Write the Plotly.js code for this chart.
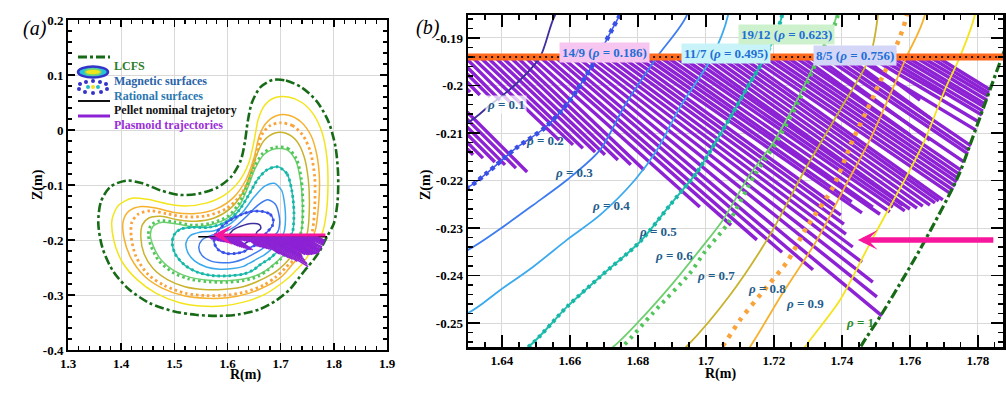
<!DOCTYPE html>
<html><head><meta charset="utf-8">
<script src="https://cdn.plot.ly/plotly-3.0.1.min.js"></script>
<style>html,body{margin:0;padding:0;background:#fff}#chart{width:1006px;height:393px}</style>
</head><body><div id="chart"></div>
<script>
// ---------- DATA (R, Z in metres) ----------
const lcfs = [[1.7871,-0.194],[1.7782,-0.2115],[1.7741,-0.2193],[1.7630,-0.2345],[1.7512,-0.2487],[1.7462,-0.2542],[1.735,-0.268],[1.717,-0.290],[1.690,-0.311],[1.660,-0.326],[1.620,-0.3355],[1.580,-0.338],[1.540,-0.336],[1.500,-0.330],[1.454,-0.315],[1.415,-0.290],[1.385,-0.257],[1.365,-0.215],[1.357,-0.170],[1.362,-0.130],[1.380,-0.103],[1.410,-0.092],[1.440,-0.097],[1.475,-0.110],[1.510,-0.118],[1.545,-0.116],[1.580,-0.105],[1.607,-0.085],[1.625,-0.055],[1.633,-0.020],[1.638,0.015],[1.646,0.050],[1.662,0.078],[1.685,0.091],[1.710,0.090],[1.740,0.077],[1.768,0.052],[1.790,0.015],[1.803,-0.030],[1.808,-0.080],[1.807,-0.130],[1.800,-0.170],[1.7871,-0.194]];
const rho09 = [[1.7791,-0.1852],[1.7747,-0.1940],[1.7703,-0.2009],[1.7644,-0.2115],[1.7600,-0.2178],[1.7488,-0.2325],[1.7394,-0.2452],[1.7300,-0.2542],[1.718,-0.266],[1.700,-0.280],[1.670,-0.299],[1.630,-0.313],[1.590,-0.320],[1.550,-0.320],[1.510,-0.314],[1.466,-0.297],[1.430,-0.272],[1.402,-0.240],[1.386,-0.200],[1.383,-0.162],[1.395,-0.137],[1.420,-0.124],[1.450,-0.126],[1.485,-0.134],[1.520,-0.138],[1.560,-0.133],[1.595,-0.118],[1.622,-0.093],[1.640,-0.060],[1.650,-0.020],[1.658,0.020],[1.670,0.045],[1.690,0.059],[1.715,0.060],[1.740,0.050],[1.762,0.028],[1.778,-0.005],[1.787,-0.050],[1.789,-0.100],[1.786,-0.150],[1.7791,-0.1852]];
const rho08 = [[1.7644,-0.1852],[1.7590,-0.1940],[1.7482,-0.2115],[1.7415,-0.2205],[1.7327,-0.2325],[1.7226,-0.2437],[1.7129,-0.2551],[1.700,-0.268],[1.675,-0.283],[1.640,-0.297],[1.600,-0.305],[1.560,-0.306],[1.520,-0.302],[1.478,-0.288],[1.443,-0.265],[1.418,-0.232],[1.405,-0.195],[1.404,-0.165],[1.415,-0.147],[1.438,-0.139],[1.465,-0.142],[1.500,-0.150],[1.540,-0.152],[1.580,-0.143],[1.612,-0.122],[1.635,-0.090],[1.650,-0.050],[1.660,-0.010],[1.672,0.012],[1.692,0.026],[1.715,0.027],[1.738,0.015],[1.757,-0.010],[1.768,-0.045],[1.773,-0.090],[1.771,-0.140],[1.7644,-0.1852]];
const q85 = [[1.7591,-0.1852],[1.7497,-0.2016],[1.7432,-0.2115],[1.7374,-0.2214],[1.7297,-0.2298],[1.7238,-0.2372],[1.7179,-0.2424],[1.7100,-0.2494],[1.7047,-0.2551],[1.690,-0.268],[1.668,-0.282],[1.635,-0.294],[1.600,-0.300],[1.560,-0.301],[1.522,-0.297],[1.482,-0.283],[1.450,-0.262],[1.428,-0.230],[1.419,-0.195],[1.420,-0.168],[1.432,-0.153],[1.455,-0.147],[1.485,-0.152],[1.520,-0.158],[1.560,-0.156],[1.598,-0.143],[1.625,-0.118],[1.643,-0.083],[1.654,-0.045],[1.665,-0.008],[1.680,0.008],[1.700,0.013],[1.722,0.008],[1.742,-0.010],[1.756,-0.040],[1.764,-0.085],[1.764,-0.140],[1.7591,-0.1852]];
const rho07 = [[1.7506,-0.1852],[1.7482,-0.1940],[1.7394,-0.2052],[1.7291,-0.2178],[1.7188,-0.2315],[1.7071,-0.2441],[1.6941,-0.2551],[1.680,-0.264],[1.655,-0.276],[1.625,-0.286],[1.590,-0.290],[1.555,-0.290],[1.520,-0.285],[1.487,-0.272],[1.460,-0.252],[1.443,-0.225],[1.437,-0.195],[1.440,-0.172],[1.452,-0.160],[1.475,-0.157],[1.505,-0.163],[1.540,-0.166],[1.575,-0.160],[1.605,-0.143],[1.628,-0.115],[1.643,-0.080],[1.655,-0.045],[1.668,-0.020],[1.688,-0.006],[1.710,-0.006],[1.730,-0.020],[1.744,-0.048],[1.752,-0.090],[1.754,-0.140],[1.7506,-0.1852]];
const q1912 = [[1.7388,-0.1852],[1.7332,-0.1940],[1.7274,-0.2031],[1.7206,-0.2121],[1.7144,-0.2188],[1.7065,-0.2290],[1.6997,-0.2350],[1.6953,-0.2395],[1.6844,-0.2479],[1.6753,-0.2551],[1.658,-0.266],[1.630,-0.274],[1.600,-0.277],[1.565,-0.276],[1.528,-0.271],[1.497,-0.259],[1.471,-0.238],[1.456,-0.211],[1.451,-0.190],[1.456,-0.173],[1.472,-0.165],[1.500,-0.167],[1.535,-0.173],[1.570,-0.169],[1.600,-0.157],[1.620,-0.136],[1.636,-0.103],[1.650,-0.068],[1.667,-0.042],[1.690,-0.031],[1.713,-0.033],[1.730,-0.053],[1.739,-0.090],[1.742,-0.140],[1.7388,-0.1852]];
const rho06 = [[1.7385,-0.1852],[1.7329,-0.1940],[1.7268,-0.2031],[1.7197,-0.2121],[1.7129,-0.2188],[1.7050,-0.2283],[1.6982,-0.2346],[1.6903,-0.2416],[1.6806,-0.2494],[1.6726,-0.2551],[1.655,-0.264],[1.630,-0.271],[1.600,-0.274],[1.565,-0.273],[1.530,-0.268],[1.500,-0.256],[1.475,-0.236],[1.460,-0.210],[1.455,-0.190],[1.460,-0.175],[1.475,-0.168],[1.500,-0.170],[1.535,-0.176],[1.570,-0.172],[1.600,-0.160],[1.622,-0.138],[1.638,-0.105],[1.652,-0.070],[1.668,-0.045],[1.690,-0.034],[1.712,-0.036],[1.728,-0.055],[1.737,-0.090],[1.741,-0.140],[1.7385,-0.1852]];
const rho05 = [[1.7224,-0.1852],[1.7174,-0.1940],[1.7129,-0.1995],[1.7079,-0.2058],[1.7032,-0.2115],[1.6974,-0.2182],[1.6894,-0.2252],[1.6806,-0.2329],[1.6688,-0.2403],[1.6591,-0.2466],[1.6476,-0.2551],[1.630,-0.262],[1.605,-0.265],[1.575,-0.265],[1.545,-0.259],[1.520,-0.246],[1.502,-0.226],[1.496,-0.205],[1.500,-0.190],[1.512,-0.180],[1.535,-0.177],[1.565,-0.177],[1.595,-0.168],[1.620,-0.148],[1.640,-0.118],[1.658,-0.088],[1.675,-0.072],[1.695,-0.067],[1.712,-0.080],[1.721,-0.110],[1.725,-0.150],[1.7224,-0.1852]];
const rho04 = [[1.7065,-0.1852],[1.7018,-0.1940],[1.6924,-0.2045],[1.6856,-0.2136],[1.6791,-0.2199],[1.6688,-0.2273],[1.6591,-0.2325],[1.6491,-0.2382],[1.6394,-0.2431],[1.6300,-0.2479],[1.610,-0.252],[1.585,-0.253],[1.560,-0.249],[1.538,-0.238],[1.525,-0.222],[1.522,-0.205],[1.530,-0.192],[1.548,-0.186],[1.575,-0.183],[1.603,-0.172],[1.628,-0.150],[1.650,-0.122],[1.670,-0.102],[1.688,-0.097],[1.702,-0.110],[1.708,-0.140],[1.709,-0.165],[1.7065,-0.1852]];
const rho03 = [[1.6944,-0.1852],[1.6856,-0.1940],[1.6762,-0.2041],[1.6688,-0.2136],[1.6591,-0.2199],[1.6491,-0.2252],[1.6394,-0.2302],[1.6300,-0.2346],[1.612,-0.240],[1.590,-0.2415],[1.568,-0.238],[1.552,-0.228],[1.546,-0.213],[1.552,-0.200],[1.568,-0.192],[1.592,-0.186],[1.615,-0.175],[1.638,-0.155],[1.658,-0.136],[1.676,-0.127],[1.690,-0.135],[1.697,-0.155],[1.698,-0.172],[1.6944,-0.1852]];
const rho02 = [[1.6747,-0.1852],[1.6679,-0.1942],[1.6600,-0.2031],[1.6526,-0.2089],[1.6441,-0.2132],[1.6353,-0.2186],[1.6300,-0.2214],[1.615,-0.2245],[1.598,-0.2245],[1.583,-0.218],[1.575,-0.205],[1.577,-0.190],[1.590,-0.175],[1.612,-0.160],[1.640,-0.149],[1.665,-0.148],[1.680,-0.153],[1.686,-0.163],[1.684,-0.175],[1.6747,-0.1852]];
const rho01 = [[1.6556,-0.1852],[1.6512,-0.1940],[1.6438,-0.1999],[1.6365,-0.2041],[1.6300,-0.2077],[1.618,-0.2085],[1.607,-0.203],[1.603,-0.193],[1.610,-0.182],[1.625,-0.175],[1.645,-0.170],[1.660,-0.172],[1.6625,-0.179],[1.6556,-0.1852]];

// pellet nominal trajectory
const pelletR = [1.545, 1.7874];
const pelletZ = -0.194;

// plasmoid trajectories: start R on the pellet path, end point (R, Z)
const trajStartR = [1.5650,1.5674,1.5694,1.5718,1.5738,1.5762,1.5782,1.5806,1.5826,1.5850,1.5870,1.5894,
 1.5915,1.5938,1.5959,1.5982,1.6003,1.6026,1.6047,1.6071,1.6091,1.6115,1.6135,
 1.6159,1.6179,1.6203,1.6224,1.6247,1.6268,1.6291,
 1.6312,1.6335,1.6356,1.6379,1.6400,1.6424,1.6444,1.6468,
 1.6488,1.6512,1.6532,1.6556,1.6576,
 1.6600,1.6621,1.6644,
 1.6665,1.6688,1.6709,1.6732,1.6753,1.6776,1.6797,1.6821,1.6841,1.6865,1.6885,1.6909,1.6929,1.6953,1.6974,1.6997,1.7018,1.7041,1.7062,1.7085,1.7106,
 1.7129,1.7150,1.7174,1.7194,1.7218,1.7238,1.7262,1.7282,1.7306,1.7326,1.7350,1.7371,1.7394,1.7415,1.7438,1.7459,1.7482,1.7503,1.7526,1.7547,1.7571,1.7591,1.7615,1.7635,1.7659,1.7680];
const trajEndR = [1.5718,1.5756,1.5785,1.5821,1.5850,1.5882,1.5909,1.5938,1.5965,1.5994,1.6021,1.6050,
 1.6100,1.6153,1.6197,1.6241,1.6276,1.6315,1.6344,1.6379,1.6409,1.6441,1.6474,
 1.6250,1.6276,1.6306,1.6335,1.6365,1.6394,1.6424,
 1.6568,1.6609,1.6638,1.6674,1.6703,1.6741,1.6779,1.6818,
 1.6982,1.7074,1.7150,1.7224,1.7315,
 1.7518,1.7503,1.7491,
 1.7459,1.7432,1.7412,1.7406,1.7397,1.7379,1.7459,1.7429,1.7512,1.7491,1.7541,1.7550,1.7585,1.7579,1.7600,1.7621,1.7638,1.7659,1.7674,1.7685,1.7697,
 1.7721,1.7727,1.7733,1.7738,1.7741,1.7744,1.7750,1.7600,1.7759,1.7659,1.7771,1.7774,1.7780,1.7659,1.7794,1.7630,1.7803,1.7703,1.7812,1.7815,1.7818,1.7821,1.7827,1.7830,1.7833,1.7836];
const trajEndZ = [-0.1988,-0.1999,-0.2005,-0.2014,-0.2020,-0.2026,-0.2031,-0.2035,-0.2039,-0.2043,-0.2047,-0.2052,
 -0.2073,-0.2094,-0.2111,-0.2125,-0.2136,-0.2146,-0.2153,-0.2161,-0.2167,-0.2174,-0.2182,
 -0.2005,-0.2009,-0.2014,-0.2020,-0.2024,-0.2031,-0.2035,
 -0.2115,-0.2125,-0.2132,-0.2140,-0.2146,-0.2157,-0.2167,-0.2178,
 -0.2256,-0.2294,-0.2325,-0.2351,-0.2388,
 -0.2485,-0.2445,-0.2414,
 -0.2372,-0.2340,-0.2313,-0.2292,-0.2273,-0.2252,-0.2268,-0.2245,-0.2271,-0.2256,-0.2266,-0.2256,-0.2264,-0.2252,-0.2260,-0.2258,-0.2254,-0.2252,-0.2247,-0.2243,-0.2241,
 -0.2228,-0.2220,-0.2212,-0.2203,-0.2195,-0.2186,-0.2178,-0.2104,-0.2161,-0.2115,-0.2144,-0.2136,-0.2127,-0.2068,-0.2094,-0.2031,-0.2077,-0.2022,-0.2062,-0.2054,-0.2045,-0.2039,-0.2031,-0.2022,-0.2016,-0.2009];

// injection direction arrows (tail R, head R, Z)
const arrowA = {tailR:1.787, headR:1.572, z:-0.191};
const arrowB = {tailR:1.785, headR:1.7447, z:-0.2325};

// ticks
const xTicksA = [1.3,1.4,1.5,1.6,1.7,1.8,1.9], xLabA = ['1.3','1.4','1.5','1.6','1.7','1.8','1.9'];
const yTicksA = [-0.4,-0.3,-0.2,-0.1,0,0.1,0.2], yLabA = ['-0.4','-0.3','-0.2','-0.1','0','0.1','0.2'];
const xTicksB = [1.64,1.66,1.68,1.7,1.72,1.74,1.76,1.78], xLabB = ['1.64','1.66','1.68','1.7','1.72','1.74','1.76','1.78'];
const yTicksB = [-0.25,-0.24,-0.23,-0.22,-0.21,-0.2,-0.19], yLabB = ['-0.25','-0.24','-0.23','-0.22','-0.21','-0.2','-0.19'];

// labels
const rhoLabels = ['ρ = 0.1','ρ = 0.2','ρ = 0.3','ρ = 0.4','ρ = 0.5','ρ = 0.6','ρ = 0.7','ρ = 0.8','ρ = 0.9','ρ = 1'];
const rationalLabels = ['14/9 (ρ = 0.186)','11/7 (ρ = 0.495)','19/12 (ρ = 0.623)','8/5 (ρ = 0.756)'];
const legendLabels = ['LCFS','Magnetic surfaces','Rational surfaces','Pellet nominal trajetory','Plasmoid trajectories'];

// ---------- DRAWING ----------
const W = 1006, H = 393;
const serif = 'Liberation Serif, Times New Roman, serif';
const px = (x,y) => ({x: x/W, y: 1 - y/H, xref:'paper', yref:'paper'});
const b = t => '<b>' + t + '</b>';

function loop(pts){
  const body = pts.slice(0,-1); let k = 0;
  body.forEach((p,i)=>{ if(p[1] > body[k][1]) k = i; });
  const r = body.slice(k).concat(body.slice(0,k)); r.push(r[0]); return r;
}
function curve(pts, panel, color, width, dash){
  const p = loop(pts);
  return {type:'scatter', mode:'lines', x:p.map(d=>d[0]), y:p.map(d=>d[1]),
    xaxis: panel===1?'x':'x2', yaxis: panel===1?'y':'y2',
    line:{color:color, width:width, dash:dash||'solid', shape:'spline', smoothing:0.8},
    hoverinfo:'skip', showlegend:false};
}
function trajTrace(panel, width){
  const x=[], y=[];
  trajStartR.forEach((r,i)=>{ x.push(r, trajEndR[i], null); y.push(pelletZ, trajEndZ[i], null); });
  return {type:'scatter', mode:'lines', x:x, y:y, xaxis: panel===1?'x':'x2', yaxis: panel===1?'y':'y2',
    line:{color:'#8c22d4', width:width}, hoverinfo:'skip', showlegend:false, connectgaps:false};
}

const styles = [
  {pts:rho09, c:'#f3e51d', w:[1.5,1.8]},
  {pts:rho08, c:'#f6b12e', w:[1.5,1.8]},
  {pts:q85,   c:'#f9a33a', w:[2.8,4.5], dash:['2.5px,3px','4px,6px']},
  {pts:rho07, c:'#c9b22c', w:[1.5,1.8]},
  {pts:rho06, c:'#6fd06f', w:[1.5,1.8]},
  {pts:q1912, c:'#52c65a', w:[2.8,4.0], dash:['2.5px,3px','3px,5px']},
  {pts:rho05, c:'#20bfb0', w:[1.5,2.0]},
  {pts:rho05, c:'#19b5a6', w:[2.8,4.0], dash:['2.5px,3px','3px,4px']},
  {pts:rho04, c:'#3aa9ee', w:[1.5,1.8]},
  {pts:rho03, c:'#3d7cf0', w:[1.5,1.8]},
  {pts:rho02, c:'#3c5bf0', w:[1.5,1.6]},
  {pts:rho02, c:'#3a4fe6', w:[2.8,4.5], dash:['2.5px,3px','4px,4px']},
  {pts:rho01, c:'#3e2f9e', w:[1.5,1.8]},
];

const traces = [];
styles.forEach(s=>traces.push(curve(s.pts,1,s.c,s.w[0],s.dash?s.dash[0]:'solid')));
traces.push(curve(lcfs,1,'#176b17',2.6,'dashdot'));
traces.push({type:'scatter',mode:'lines',x:pelletR,y:[pelletZ,pelletZ],xaxis:'x',yaxis:'y',line:{color:'#000',width:1.5},hoverinfo:'skip',showlegend:false});
traces.push(trajTrace(1,1.4));
traces.push(trajTrace(2,3.4));
styles.forEach(s=>traces.push(curve(s.pts,2,s.c,s.w[1],s.dash?s.dash[1]:'solid')));
traces.push(curve(lcfs,2,'#176b17',3.2,'dashdot'));
traces.push({type:'scatter',mode:'lines',x:pelletR,y:[pelletZ,pelletZ],xaxis:'x2',yaxis:'y2',line:{color:'#ff6a1c',width:7},hoverinfo:'skip',showlegend:false});
traces.push({type:'scatter',mode:'lines',x:pelletR,y:[pelletZ,pelletZ],xaxis:'x2',yaxis:'y2',line:{color:'#2a1a10',width:2,dash:'2px,4px'},hoverinfo:'skip',showlegend:false});

const tickFont = {family:serif, size:13, color:'#000'};
function axis(extra){
  return Object.assign({ticks:'inside', tickcolor:'#000', tickwidth:1.5, showline:true, linecolor:'#000',
    mirror:'allticks', showgrid:true, gridcolor:'#d9d9d9', gridwidth:1, zeroline:false, tickfont:tickFont,
    tickmode:'array', fixedrange:true}, extra);
}
const layout = {
  width:W, height:H, margin:{l:0,r:0,t:0,b:0}, paper_bgcolor:'#fff', plot_bgcolor:'#fff', showlegend:false,
  xaxis: axis({domain:[68/W,387/W], anchor:'y', range:[1.3,1.9], tickvals:xTicksA, ticktext:xLabA.map(b), ticklen:7, linewidth:2,
    minor:{tickmode:'linear', tick0:1.3, dtick:0.02, ticks:'inside', ticklen:4, tickwidth:1.2, tickcolor:'#000', showgrid:false}}),
  yaxis: axis({domain:[1-350/H,1-20/H], anchor:'x', range:[-0.4,0.2], tickvals:yTicksA, ticktext:yLabA.map(b), ticklen:7, linewidth:2,
    minor:{tickmode:'linear', tick0:-0.4, dtick:0.02, ticks:'inside', ticklen:4, tickwidth:1.2, tickcolor:'#000', showgrid:false}}),
  xaxis2: axis({domain:[468/W,1003/W], anchor:'y2', range:[1.63,1.7874], tickvals:xTicksB, ticktext:xLabB.map(b), ticklen:12, linewidth:2.5,
    minor:{tickmode:'linear', tick0:1.63, dtick:0.005, ticks:'inside', ticklen:5, tickwidth:1.3, tickcolor:'#000', showgrid:false}}),
  yaxis2: axis({domain:[1-347/H,1-15/H], anchor:'x2', range:[-0.25505,-0.18516], tickvals:yTicksB, ticktext:yLabB.map(b), ticklen:12, linewidth:2.5,
    minor:{tickmode:'linear', tick0:-0.25, dtick:0.002, ticks:'inside', ticklen:5, tickwidth:1.3, tickcolor:'#000', showgrid:false}}),
  annotations: [], shapes: []
};
const A = layout.annotations, S = layout.shapes;
const txt = (x,y,t,o) => A.push(Object.assign(px(x,y), {text:t, showarrow:false, font:Object.assign({family:serif,size:13,color:'#000'}, (o&&o.font)||{})}, o&&o.extra||{}));

// panel labels and axis titles
txt(21,15,'(a)',{font:{size:20,style:'italic'}});
txt(428,14,'(b)',{font:{size:20,style:'italic'}});
txt(228,385,b('R(m)'),{font:{size:14}});
txt(738,384,b('R(m)'),{font:{size:14}});
txt(28,185,b('Z(m)'),{font:{size:14},extra:{textangle:-90}});
txt(426,185,b('Z(m)'),{font:{size:14},extra:{textangle:-90}});

// arrows
A.push({x:arrowA.headR, y:arrowA.z, ax:arrowA.tailR, ay:arrowA.z, xref:'x', yref:'y', axref:'x', ayref:'y', text:'', showarrow:true, arrowhead:3, arrowsize:1.1, arrowwidth:3, arrowcolor:'#f8179c', standoff:0});
A.push({x:arrowB.headR, y:arrowB.z, ax:arrowB.tailR, ay:arrowB.z, xref:'x2', yref:'y2', axref:'x2', ayref:'y2', text:'', showarrow:true, arrowhead:3, arrowsize:0.6, arrowwidth:5.5, arrowcolor:'#f8179c', standoff:0});

// rho labels in panel (b)
const rhoPos = [[506,95],[545,140],[574,172],[611,205],[658,232],[695,265],[737,285],[788,298],[826,313],[876,332]];
rhoLabels.forEach((t,i)=>{
  const html = b(t.replace('ρ','<i>ρ</i>'));
  txt(rhoPos[i][0], rhoPos[i][1], html, {font:{color: i===9 ? '#2b8a2b' : '#1f5d8c'},
    extra: i===0 ? {bgcolor:'rgba(255,255,255,0.75)'} : {}});
});
const ratPos = [[604,42],[771,43],[835,24],[897,45]];
const ratBg = ['#f7c6f0','#c8f3f8','#cdf1cd','#d4d6f8'];
rationalLabels.forEach((t,i)=>{
  txt(ratPos[i][0], ratPos[i][1], b(t.replace('ρ','<i>ρ</i>')), {font:{color:'#1f6fd6'}, extra:{bgcolor:ratBg[i], borderpad:2}});
});

// legend of panel (a)
const legY = [57,72,87,101,116];
const legCol = ['#2a7d2a','#2a64a8','#2a78b2','#111111','#9a2fd8'];
legendLabels.forEach((t,i)=>{ A.push(Object.assign(px(112,legY[i]), {text:b(t), showarrow:false, xanchor:'left', font:{family:serif,size:12,color:legCol[i]}})); });
const pLine = (x0,x1,y,color,w,dash) => S.push({type:'line', xref:'paper', yref:'paper', x0:x0/W, x1:x1/W, y0:1-y/H, y1:1-y/H, line:{color:color,width:w,dash:dash||'solid'}});
pLine(78,110,57,'#176b17',3,'dashdot');
pLine(78,110,101,'#111',2);
pLine(78,110,116,'#8c22d4',3);
S.push({type:'circle', xref:'paper', yref:'paper', x0:78/W, x1:108/W, y0:1-77.5/H, y1:1-66.5/H, line:{color:'#3434c8',width:2.5}, fillcolor:'#27c3d6'});
S.push({type:'circle', xref:'paper', yref:'paper', x0:85/W, x1:101/W, y0:1-75/H, y1:1-69/H, line:{color:'#7ad36a',width:1.5}, fillcolor:'#f1e51e'});
const dotPos = [[80,84,'#3434c8'],[86,82,'#3434c8'],[93,81,'#3434c8'],[100,82,'#3434c8'],[106,84,'#3434c8'],[107,89,'#3434c8'],[101,92,'#3434c8'],[93,93,'#3434c8'],[85,92,'#3434c8'],[79,89,'#3434c8'],[88,87,'#22bcc8'],[98,87,'#22bcc8'],[93,87,'#f1e51e']];
dotPos.forEach(d=>S.push({type:'circle', xref:'paper', yref:'paper', x0:(d[0]-2)/W, x1:(d[0]+2)/W, y0:1-(d[1]+2)/H, y1:1-(d[1]-2)/H, line:{width:0}, fillcolor:d[2]}));

Plotly.newPlot('chart', traces, layout, {staticPlot:true, displayModeBar:false});
</script></body></html>
